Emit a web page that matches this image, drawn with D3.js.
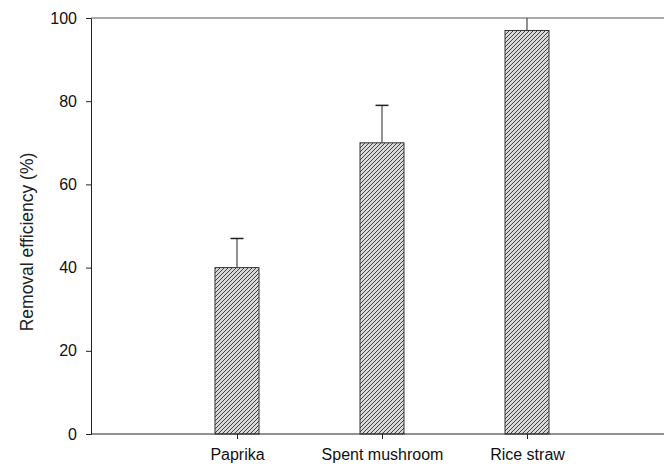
<!DOCTYPE html>
<html><head><meta charset="utf-8">
<script src="https://cdn.jsdelivr.net/npm/d3@7"></script>
<style>body{margin:0;background:#fff}</style>
</head><body><svg id="c" width="664" height="467"></svg>
<script>
const categories = ["Paprika", "Spent mushroom", "Rice straw"];
const values = [40, 70, 97];
const errors = [7, 9, 5];
const yTicks = [0, 20, 40, 60, 80, 100];

const svg = d3.select("#c");
const L = 91, R = 664, T = 18, B = 434;
const y = d3.scaleLinear().domain([0, 100]).range([B, T]);
const x = d3.scalePoint().domain(categories).range([237, 527]);
const bw = 44;
const FONT = "Liberation Sans, Arial, sans-serif";

const defs = svg.append("defs");
const pat = defs.append("pattern").attr("id","hatch").attr("patternUnits","userSpaceOnUse")
  .attr("width",4).attr("height",4);
pat.append("rect").attr("width",4).attr("height",4).attr("fill","#d8d8d8");
pat.append("path").attr("d","M-1,1 L1,-1 M0,4 L4,0 M3,5 L5,3")
  .attr("stroke","#333").attr("stroke-width",0.9);
defs.append("clipPath").attr("id","clip").append("rect")
  .attr("x",L).attr("y",T).attr("width",R-L).attr("height",B-T);

// error bars
const g = svg.append("g").attr("clip-path","url(#clip)");
categories.forEach((c,i)=>{
  const cx = x(c);
  g.append("line").attr("x1",cx).attr("x2",cx).attr("y1",y(values[i])).attr("y2",y(values[i]+errors[i]))
    .attr("stroke","#555").attr("stroke-width",1.3);
  g.append("line").attr("x1",cx-6.5).attr("x2",cx+6.5).attr("y1",y(values[i]+errors[i])).attr("y2",y(values[i]+errors[i]))
    .attr("stroke","#222").attr("stroke-width",1.5);
});
// bars
svg.selectAll("rect.bar").data(categories).join("rect").attr("class","bar")
  .attr("x",d=>x(d)-bw/2).attr("width",bw)
  .attr("y",(d,i)=>y(values[i])).attr("height",(d,i)=>B-y(values[i]))
  .attr("fill","url(#hatch)").attr("stroke","#333").attr("stroke-width",1);

// axes
const ya = svg.append("g").attr("transform",`translate(${L},0)`)
  .call(d3.axisLeft(y).tickValues(yTicks).tickSize(5).tickPadding(9).tickFormat(d3.format("d")));
ya.select(".domain").attr("stroke","#222");
ya.selectAll(".tick line").attr("stroke","#222");
ya.selectAll("text").attr("font-family",FONT).attr("font-size",16).attr("fill","#111");

const xa = svg.append("g").attr("transform",`translate(0,${B})`)
  .call(d3.axisBottom(x).tickSize(5).tickPadding(10).tickSizeOuter(0));
xa.select(".domain").remove();
xa.selectAll(".tick line").attr("stroke","#222");
xa.selectAll("text").attr("font-family",FONT).attr("font-size",16).attr("fill","#111");
svg.append("line").attr("x1",L).attr("x2",R).attr("y1",B).attr("y2",B).attr("stroke","#222");
svg.append("line").attr("x1",L).attr("x2",R).attr("y1",T).attr("y2",T).attr("stroke","#555");

svg.append("text").attr("transform",`translate(33,242) rotate(-90)`)
  .attr("text-anchor","middle").attr("font-family",FONT)
  .attr("font-size",17.5).attr("fill","#222").text("Removal efficiency (%)");
</script></body></html>
